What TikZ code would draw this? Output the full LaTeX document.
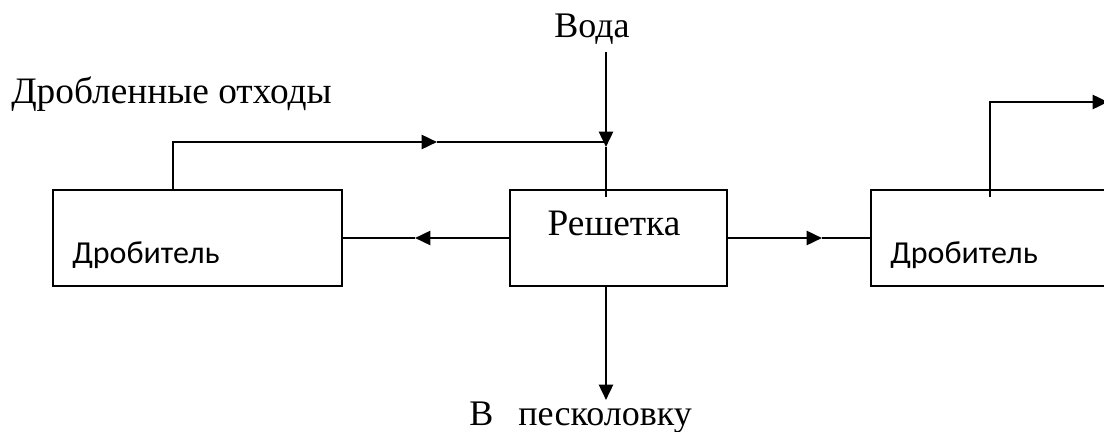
\documentclass[tikz,border=0pt]{standalone}
\usepackage{fontspec}
\setmainfont{Liberation Serif}
\newfontfamily\boxfont{Carlito}
\usetikzlibrary{arrows.meta}
\begin{document}
\begin{tikzpicture}[x=0.75pt,y=-0.75pt,
  line/.style={line width=1.9pt},
  flow/.style={line, -{Triangle[length=11.5pt,width=10.5pt]}},
  unit/.style={draw, line width=1.7pt, rectangle, inner sep=0pt, minimum height=72pt},
  lbl/.style={font=\fontsize{28}{32}\selectfont, inner sep=0pt, anchor=base west},
  lbls/.style={font=\fontsize{27}{31}\selectfont, inner sep=0pt, anchor=base west},
  boxlbl/.style={font=\boxfont\fontsize{24}{28}\selectfont, inner sep=0pt, anchor=base west}]
\useasboundingbox (0,0) rectangle (1104,432);

% units
\node[unit, minimum width=216.75pt] (drobL) at (197.5,238) {};
\node[unit, minimum width=162.75pt] (resh) at (618.5,238) {};
\node[unit, minimum width=217.5pt, anchor=west] (drobR) at (870,238) {};

% texts
\node[boxlbl] (drobLt) at (72,263) {Дробитель};
\node[boxlbl] (drobRt) at (890,263) {Дробитель};
\node[lbl, anchor=base] (resht) at (614,235) {Решетка};
\node[lbls, anchor=base] (voda) at (592,37) {Вода};
\node[lbl] (otx) at (11,103) {Дробленные отходы};
\node[lbls] (pesk) at (469,425) {В\hspace{0.7em}песколовку};

% water inlet
\coordinate (wtop) at (606,52);
\coordinate (wtip) at (606,147);
\coordinate (wend) at (606,197);
\draw[flow] (wtop) -- (wtip);
\draw[line] (wtip) -- (wend);

% crushed waste return
\coordinate (rbend) at (173,142);
\coordinate (rtip) at (437,142);
\coordinate (rjoin) at (606,142);
\draw[flow] (drobL.north -| rbend) -- (rbend) -- (rtip);
\draw[line] (rtip) -- (rjoin);

% screen to left crusher
\coordinate (ltip) at (415,238);
\draw[flow] (resh.west) -- (ltip);
\draw[line] (ltip) -- (drobL.east);

% screen to right crusher
\coordinate (rgtip) at (822,238);
\draw[flow] (resh.east) -- (rgtip);
\draw[line] (rgtip) -- (drobR.west);

% screen to sand trap
\coordinate (stip) at (606,400);
\draw[flow] (resh.south -| stip) -- (stip);

% right crusher outlet
\coordinate (obot) at (990,197);
\coordinate (obend) at (990,102);
\coordinate (otip) at (1108,102);
\draw[flow] (obot) -- (obend) -- (otip);
\end{tikzpicture}
\end{document}
